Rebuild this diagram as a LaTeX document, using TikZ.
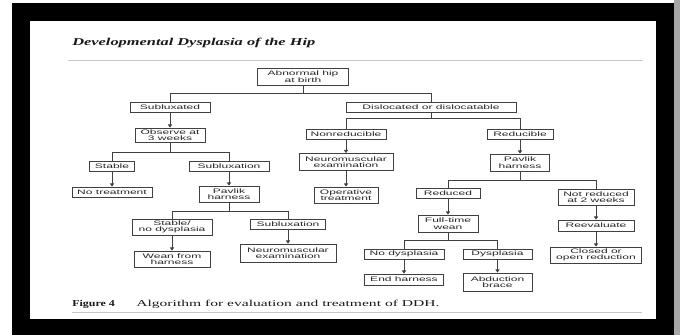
\documentclass[tikz,border=0pt]{standalone}
\usepackage{fontspec}
\setmainfont{Liberation Serif}
\newfontfamily\boxfont[FakeStretch=1.85]{Liberation Sans}
\usetikzlibrary{arrows.meta,calc}
\tikzset{
  bx/.style={draw=black!75, line width=0.8pt, inner sep=0pt, align=center,
    font=\boxfont\fontsize{6.5}{6.6}\selectfont, text=black!85},
  conn/.style={draw=black!75, line width=0.8pt},
  arr/.style={conn, -{Triangle[length=3.2pt,width=4.2pt]}},
  rulel/.style={draw=black!22, line width=1pt},
  txt/.style={anchor=base west, inner sep=0pt, text=black!90, transform shape},
}
\begin{document}
\begin{tikzpicture}[x=1pt,y=-1pt]
\useasboundingbox (0,0) rectangle (680,335);
% frame
\fill[white] (0,0) rectangle (680,335);
\fill[black!35] (674,0) rectangle (680,335);
\fill[black] (12,3) rectangle (674,335);
\fill[white] (30,21) rectangle (656,319);
% title, rules, caption
\begin{scope}[shift={(72,45)}, xscale=1.56]
\node[txt, font=\fontsize{10.5}{12}\selectfont\bfseries\itshape] (title) at (0,0) {Developmental Dysplasia of the Hip};
\end{scope}
\coordinate (r1a) at (68,60); \coordinate (r1b) at (643,60);
\draw[rulel] (r1a) -- (r1b);
\begin{scope}[shift={(72,306)}, xscale=1.33]
\node[txt, font=\fontsize{9}{10}\selectfont\bfseries] (fig) at (0,0) {Figure 4};
\end{scope}
\begin{scope}[shift={(136,306)}, xscale=1.73]
\node[txt, font=\fontsize{9}{10}\selectfont] (cap) at (0,0) {Algorithm for evaluation and treatment of DDH.};
\end{scope}
\coordinate (r2a) at (72,312); \coordinate (r2b) at (642,312);
\draw[rulel] (r2a) -- (r2b);

% nodes
\node[bx, minimum width=91, minimum height=17] (abn) at (303,76.5) {Abnormal hip\\at birth};
\node[bx, minimum width=80, minimum height=10] (subd) at (170,107) {Subluxated};
\node[bx, minimum width=170, minimum height=10] (disl) at (431,107) {Dislocated or dislocatable};
\node[bx, minimum width=70, minimum height=14] (obs) at (170,135) {Observe at\\3 weeks};
\node[bx, minimum width=45, minimum height=10] (stable) at (112,166) {Stable};
\node[bx, minimum width=80, minimum height=10] (sublx) at (229,166) {Subluxation};
\node[bx, minimum width=80, minimum height=10] (notreat) at (112,192) {No treatment};
\node[bx, minimum width=60, minimum height=16] (pav1) at (229,194) {Pavlik\\harness};
\node[bx, minimum width=80, minimum height=16] (stnd) at (172,227) {Stable/\\no dysplasia};
\node[bx, minimum width=75, minimum height=10] (sublx2) at (288,224) {Subluxation};
\node[bx, minimum width=76, minimum height=16] (wean) at (172,259) {Wean from\\harness};
\node[bx, minimum width=96, minimum height=18] (neuro2) at (288,253) {Neuromuscular\\examination};
\node[bx, minimum width=80, minimum height=9.5] (nonred) at (346,134.5) {Nonreducible};
\node[bx, minimum width=94, minimum height=17] (neuro1) at (346,162) {Neuromuscular\\examination};
\node[bx, minimum width=64, minimum height=16] (oper) at (346,195) {Operative\\treatment};
\node[bx, minimum width=66, minimum height=10] (red) at (520,134) {Reducible};
\node[bx, minimum width=59, minimum height=17] (pav2) at (520,162.5) {Pavlik\\harness};
\node[bx, minimum width=64, minimum height=10] (reduced) at (448,193.5) {Reduced};
\node[bx, minimum width=76, minimum height=16] (notred) at (596,197) {Not reduced\\at 2 weeks};
\node[bx, minimum width=60, minimum height=17] (ftw) at (448,223.5) {Full-time\\wean};
\node[bx, minimum width=80, minimum height=10] (nodys) at (404,254) {No dysplasia};
\node[bx, minimum width=69, minimum height=10] (dys) at (497.5,254) {Dysplasia};
\node[bx, minimum width=79, minimum height=11] (endh) at (404,279.5) {End harness};
\node[bx, minimum width=69, minimum height=18] (abd) at (497.5,282) {Abduction\\brace};
\node[bx, minimum width=76, minimum height=11] (reev) at (596,225.5) {Reevaluate};
\node[bx, minimum width=91, minimum height=16] (closed) at (596,255) {Closed or\\open reduction};

% branching connectors
\coordinate (j1) at ($(abn.south)+(0,8)$);
\draw[conn] (abn.south) -- (j1) -| (subd.north);
\draw[conn] (j1) -| (disl.north);
\coordinate (j2) at ($(obs.south)+(0,10)$);
\draw[conn] (obs.south) -- (j2) -| (stable.north);
\draw[conn] (j2) -| (sublx.north);
\coordinate (j3) at ($(pav1.south)+(0,9)$);
\draw[conn] (pav1.south) -- (j3) -| (stnd.north);
\draw[conn] (j3) -| (sublx2.north);
\coordinate (j4) at ($(disl.south)+(0,6)$);
\draw[conn] (disl.south) -- (j4) -| (nonred.north);
\draw[conn] (j4) -| (red.north);
\coordinate (j5) at ($(pav2.south)+(0,9)$);
\draw[conn] (pav2.south) -- (j5) -| (reduced.north);
\draw[conn] (j5) -| (notred.north);
\coordinate (j6) at ($(ftw.south)+(0,8)$);
\draw[conn] (ftw.south) -- (j6) -| (nodys.north);
\draw[conn] (j6) -| (dys.north);

% arrows
\draw[arr] (subd.south) -- (obs.north);
\draw[arr] (stable.south) -- (notreat.north);
\draw[arr] (sublx.south) -- (pav1.north);
\draw[arr] (stnd.south) -- (wean.north);
\draw[arr] (sublx2.south) -- (neuro2.north);
\draw[arr] (nonred.south) -- (neuro1.north);
\draw[arr] (neuro1.south) -- (oper.north);
\draw[arr] (red.south) -- (pav2.north);
\draw[arr] (reduced.south) -- (ftw.north);
\draw[arr] (nodys.south) -- (endh.north);
\draw[arr] (dys.south) -- (abd.north);
\draw[arr] (notred.south) -- (reev.north);
\draw[arr] (reev.south) -- (closed.north);
\end{tikzpicture}
\end{document}
